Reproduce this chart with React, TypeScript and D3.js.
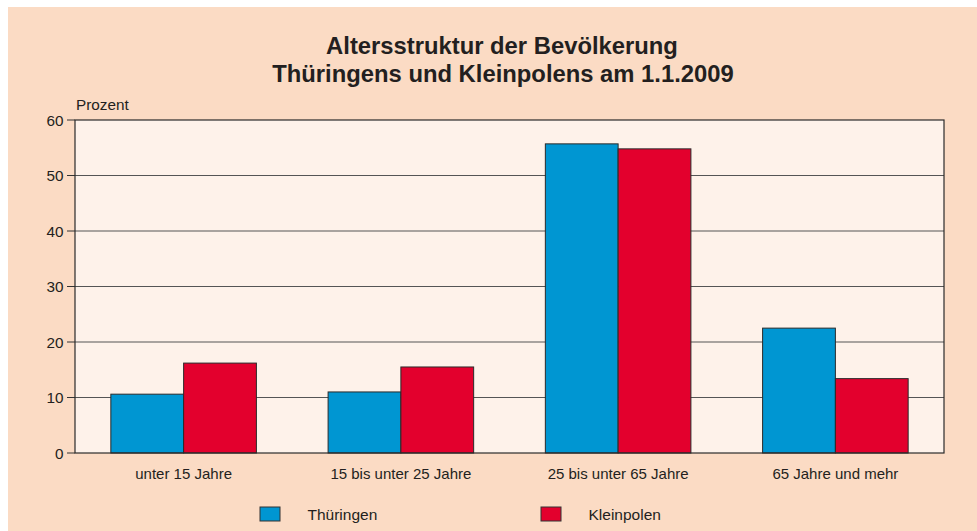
import React from "react";
import * as d3 from "d3";

const categories = ["unter 15 Jahre", "15 bis unter 25 Jahre", "25 bis unter 65 Jahre", "65 Jahre und mehr"];
const seriesNames = ["Thüringen", "Kleinpolen"];
const thueringen = [10.6, 11.0, 55.7, 22.5];
const kleinpolen = [16.2, 15.5, 54.8, 13.4];
const yTicks = [0, 10, 20, 30, 40, 50, 60];
const colors = ["#0096d2", "#e3002d"];

const W = 977, H = 531;
const m = { left: 75, right: 944, top: 120, bottom: 453 };
const font = "'Liberation Sans', Arial, sans-serif";
const textColor = "#231f20";

export default function App() {
  const x = d3.scaleBand().domain(categories).range([m.left, m.right]).paddingInner(0.33).paddingOuter(0.165);
  const xs = d3.scaleBand().domain(seriesNames).range([0, x.bandwidth()]);
  const y = d3.scaleLinear().domain([0, 60]).range([m.bottom, m.top]);
  const series = [thueringen, kleinpolen];

  return (
    <svg width={W} height={H} style={{ position: "absolute", left: 0, top: 0 }} fontFamily={font}>
      <rect x={0} y={0} width={W} height={H} fill="#ffffff" />
      <rect x={8} y={7} width={W - 8} height={H - 7} fill="#fbdbc4" />
      <rect x={m.left} y={m.top} width={m.right - m.left} height={m.bottom - m.top} fill="#fef2ea" />
      <text x={502} y={54} textAnchor="middle" fontSize={23.8} fontWeight="bold" fill={textColor}>Altersstruktur der Bevölkerung</text>
      <text x={503} y={81.5} textAnchor="middle" fontSize={23.8} fontWeight="bold" fill={textColor}>Thüringens und Kleinpolens am 1.1.2009</text>
      <text x={76} y={110} fontSize={15.3} fill={textColor}>Prozent</text>
      {yTicks.map(t => (
        <g key={t}>
          {t > 0 && t < 60 && <line x1={m.left} x2={m.right} y1={y(t)} y2={y(t)} stroke="#555" strokeWidth={1} />}
          <line x1={67} x2={m.left} y1={y(t)} y2={y(t)} stroke="#333" strokeWidth={1} />
          <text x={63.5} y={y(t) + 5.5} textAnchor="end" fontSize={15.3} fill={textColor}>{t}</text>
        </g>
      ))}
      {categories.map((c, i) => (
        <g key={c}>
          {series.map((s, j) => (
            <rect key={j} x={(x(c) ?? 0) + (xs(seriesNames[j]) ?? 0)} y={y(s[i])} width={xs.bandwidth()} height={y(0) - y(s[i])}
              fill={colors[j]} stroke="#2a2a2a" strokeWidth={1} />
          ))}
          <text x={(x(c) ?? 0) + x.bandwidth() / 2} y={479} textAnchor="middle" fontSize={15} fill={textColor}>{c}</text>
        </g>
      ))}
      <rect x={m.left} y={m.top} width={m.right - m.left} height={m.bottom - m.top} fill="none" stroke="#2a2a2a" strokeWidth={1.2} />
      {seriesNames.map((n, j) => {
        const lx = j === 0 ? 260 : 541;
        return (
          <g key={n}>
            <rect x={lx} y={507} width={20} height={14} fill={colors[j]} stroke="#333" strokeWidth={1} />
            <text x={lx + 47.5} y={519.5} fontSize={15.5} fill={textColor}>{n}</text>
          </g>
        );
      })}
    </svg>
  );
}
